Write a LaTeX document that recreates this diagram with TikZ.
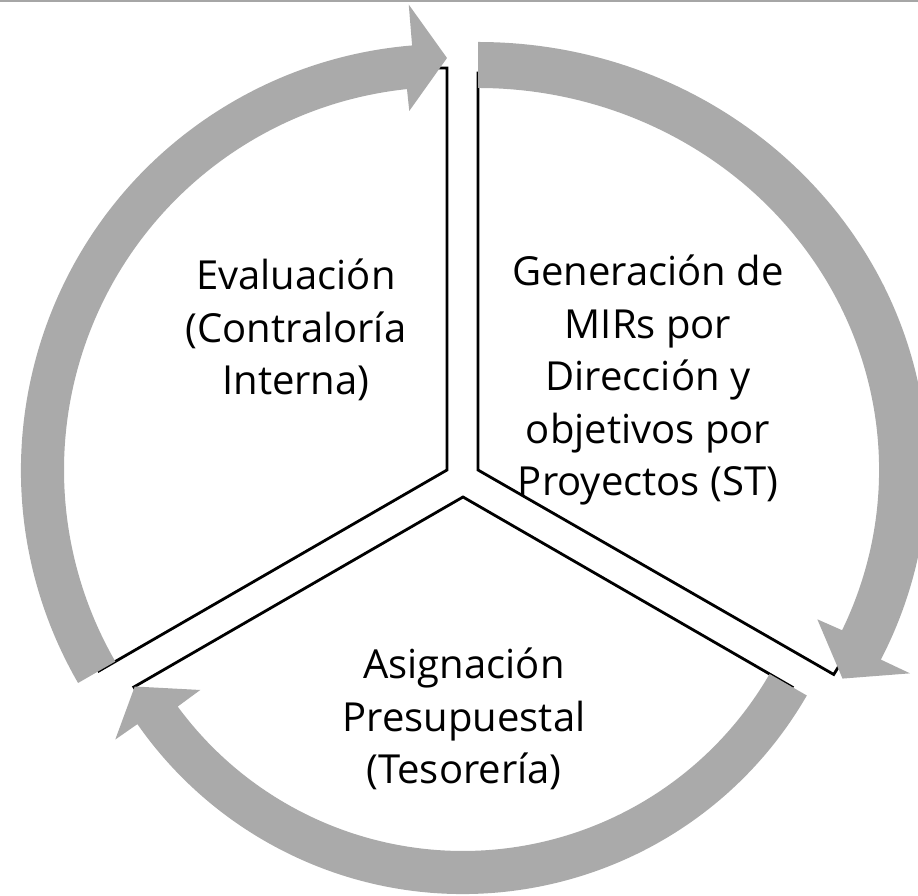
\documentclass[tikz,border=0pt]{standalone}
\usepackage{fontspec}
\setmainfont{Open Sans}
\usepackage{tikz}
\definecolor{arrowgray}{RGB}{170,170,170}

\begin{document}
\begin{tikzpicture}[x=1pt,y=1pt,band/.style={fill=arrowgray},slice/.style={draw=black, fill=white, line width=2.8pt},stage/.style={align=center, inner sep=0pt, font=\fontsize{40}{52.5}\selectfont}]
    \clip (0,0) rectangle (918,896);
    \fill[gray!70] (0,893.5) rectangle (918,896);
    % segments
    \draw[slice] (447,426) -- ++(90:402) arc[start angle=90, end angle=210, radius=402] -- cycle;
    \draw[slice] (478,426) -- ++(90:397) arc[start angle=90, end angle=-31, x radius=415, y radius=397] -- cycle;
    \draw[slice] (463,399) -- ++(210:380) arc[start angle=210, end angle=330, radius=380] -- cycle;
    % arrows
    \begin{scope}[shift={(478,426)}, xscale=1.05]
        \fill[band] (90:428) arc[start angle=90, end angle=-26.3, radius=428] -- (-26.3:459) -- (-31:405) -- (-24.8:356) -- (-24.8:382) arc[start angle=-24.8, end angle=90, radius=382] -- cycle;
    \end{scope}
    \begin{scope}[shift={(463,399)}]
        \fill[band] (-30:397) arc[start angle=-30, end angle=-145.1, radius=397] -- (-145.1:424) -- (-150:379) -- (-143.7:326) -- (-143.7:354) arc[start angle=-143.7, end angle=-30, radius=354] -- cycle;
    \end{scope}
    \begin{scope}[shift={(447,426)}]
        \fill[band] (210:426) arc[start angle=210, end angle=94.7, radius=426] -- (94.7:467) -- (90:412) -- (96:361) -- (96:383) arc[start angle=96, end angle=210, radius=383] -- cycle;
    \end{scope}
    \node[stage] (eval) at (296,566) {Evaluación\\(Contraloría\\Interna)};
    \node[stage] (gen) at (648,516) {Generación de\\MIRs por\\Dirección y\\objetivos por\\Proyectos (ST)};
    \node[stage] (asig) at (464,177) {Asignación\\Presupuestal\\(Tesorería)};
\end{tikzpicture}
\end{document}
